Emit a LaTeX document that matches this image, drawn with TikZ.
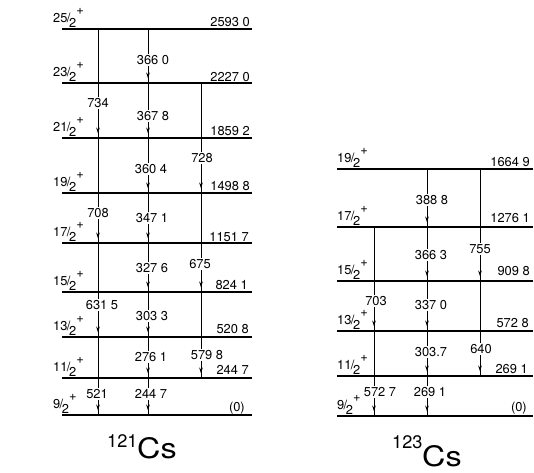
\documentclass[tikz,border=0pt]{standalone}
\usepackage{fontspec}
\setmainfont{TeX Gyre Heros}
\usetikzlibrary{arrows.meta, decorations.markings}
\newcommand{\labfont}{\fontsize{11}{13}\selectfont}
\newcommand{\spin}[1]{#1\kern-.06em/\kern-.1em\raisebox{-5pt}{2}\raisebox{6pt}{+}}
\tikzset{
  level/.style={line width=1.6pt},
  trans/.style={line width=0.8pt, postaction={decorate},
    decoration={markings, mark=at position -4pt with {\arrow{Stealth[length=5pt,width=3.2pt]}}}},
  lab/.style={fill=white, inner sep=1pt, font=\labfont},
  ener/.style={anchor=base east, inner sep=0pt, font=\labfont},
  jlab/.style={anchor=base west, inner sep=0pt, font=\labfont},
}
\begin{document}
\begin{tikzpicture}[x=0.03cm, y=-0.03cm]
\useasboundingbox (0,0) rectangle (534,472);
\coordinate (A25) at (62,29);
\coordinate (A23) at (62,83);
\coordinate (A21) at (62,138);
\coordinate (A19) at (62,193);
\coordinate (A17) at (62,243);
\coordinate (A15) at (62,292);
\coordinate (A13) at (62,337);
\coordinate (A11) at (62,378);
\coordinate (A9) at (62,415);
\coordinate (Ac1) at (98,0);
\coordinate (Ac2) at (148,0);
\coordinate (Ac3) at (201,0);
\coordinate (Aend) at (252,0);
\coordinate (B19) at (337,169);
\coordinate (B17) at (337,227);
\coordinate (B15) at (337,281);
\coordinate (B13) at (337,331);
\coordinate (B11) at (337,376);
\coordinate (B9) at (337,416);
\coordinate (Bc1) at (374,0);
\coordinate (Bc2) at (427,0);
\coordinate (Bc3) at (480,0);
\coordinate (Bend) at (533,0);
\foreach \l in {25,23,21,19,17,15,13,11,9}
  \draw[level] (A\l) -- (A\l -| Aend);
\foreach \l in {19,17,15,13,11,9}
  \draw[level] (B\l) -- (B\l -| Bend);
\draw[trans] (A25 -| Ac1) -- (A21 -| Ac1);
\draw[trans] (A21 -| Ac1) -- (A17 -| Ac1);
\draw[trans] (A17 -| Ac1) -- (A13 -| Ac1);
\draw[trans] (A13 -| Ac1) -- (A9 -| Ac1);
\draw[trans] (A25 -| Ac2) -- (A23 -| Ac2);
\draw[trans] (A23 -| Ac2) -- (A21 -| Ac2);
\draw[trans] (A21 -| Ac2) -- (A19 -| Ac2);
\draw[trans] (A19 -| Ac2) -- (A17 -| Ac2);
\draw[trans] (A17 -| Ac2) -- (A15 -| Ac2);
\draw[trans] (A15 -| Ac2) -- (A13 -| Ac2);
\draw[trans] (A13 -| Ac2) -- (A11 -| Ac2);
\draw[trans] (A11 -| Ac2) -- (A9 -| Ac2);
\draw[trans] (A23 -| Ac3) -- (A19 -| Ac3);
\draw[trans] (A19 -| Ac3) -- (A15 -| Ac3);
\draw[trans] (A15 -| Ac3) -- (A11 -| Ac3);
\draw[trans] (B17 -| Bc1) -- (B13 -| Bc1);
\draw[trans] (B13 -| Bc1) -- (B9 -| Bc1);
\draw[trans] (B19 -| Bc2) -- (B17 -| Bc2);
\draw[trans] (B17 -| Bc2) -- (B15 -| Bc2);
\draw[trans] (B15 -| Bc2) -- (B13 -| Bc2);
\draw[trans] (B13 -| Bc2) -- (B11 -| Bc2);
\draw[trans] (B11 -| Bc2) -- (B9 -| Bc2);
\draw[trans] (B19 -| Bc3) -- (B15 -| Bc3);
\draw[trans] (B15 -| Bc3) -- (B11 -| Bc3);
\node[lab] (gA734) at (98,103) {734};
\node[lab] (gA708) at (98,213) {708};
\node[lab] (gA631) at (102,305) {631 5};
\node[lab] (gA521) at (97,394) {521};
\node[lab] (gA366) at (153,60) {366 0};
\node[lab] (gA367) at (153,116) {367 8};
\node[lab] (gA360) at (151,169) {360 4};
\node[lab] (gA347) at (152,218) {347 1};
\node[lab] (gA327) at (152,268) {327 6};
\node[lab] (gA303) at (152,316) {303 3};
\node[lab] (gA276) at (151,357) {276 1};
\node[lab] (gA244) at (151,394) {244 7};
\node[lab] (gA728) at (202,158) {728};
\node[lab] (gA675) at (200,264) {675};
\node[lab] (gA579) at (207,355) {579 8};
\node[lab] (gB703) at (376,301) {703};
\node[lab] (gB572) at (380,392) {572 7};
\node[lab] (gB388) at (432,200) {388 8};
\node[lab] (gB366) at (431,255) {366 3};
\node[lab] (gB337) at (431,305) {337 0};
\node[lab] (gB303) at (431,352) {303.7};
\node[lab] (gB269) at (430,392) {269 1};
\node[lab] (gB755) at (480,249) {755};
\node[lab] (gB640) at (481,349) {640};
\node[ener] (eA25) at (250,26) {2593 0};
\node[ener] (eA23) at (250,81) {2227 0};
\node[ener] (eA21) at (250,135) {1859 2};
\node[ener] (eA19) at (250,190) {1498 8};
\node[ener] (eA17) at (249,241) {1151 7};
\node[ener] (eA15) at (248,289) {824 1};
\node[ener] (eA13) at (249,333) {520 8};
\node[ener] (eA11) at (249,374) {244 7};
\node[ener] (eA9) at (245,411) {(0)};
\node[ener] (eB19) at (530,166) {1664 9};
\node[ener] (eB17) at (530,222) {1276 1};
\node[ener] (eB15) at (530,275) {909 8};
\node[ener] (eB13) at (529,327) {572 8};
\node[ener] (eB11) at (528,373) {269 1};
\node[ener] (eB9) at (527,411) {(0)};
\foreach \l in {25,23,21,19,17,15,13,11,9}
  \node[jlab] (jA\l) at ([yshift=7*0.03cm]A\l -| 53,0) {\spin{\l}};
\foreach \l in {19,17,15,13,11,9}
  \node[jlab] (jB\l) at ([yshift=7*0.03cm]B\l) {\spin{\l}};
\node[anchor=base west, inner sep=0pt, font=\fontsize{15.5}{18}\selectfont] (mA) at (107,447) {121};
\node[anchor=base west, inner sep=0pt, font=\fontsize{24}{28}\selectfont] (csA) at (137,458) {\scalebox{1.15}[1]{Cs}};
\node[anchor=base west, inner sep=0pt, font=\fontsize{15.5}{18}\selectfont] (mB) at (392,448) {123};
\node[anchor=base west, inner sep=0pt, font=\fontsize{24}{28}\selectfont] (csB) at (422,466) {\scalebox{1.15}[1]{Cs}};
\end{tikzpicture}
\end{document}
